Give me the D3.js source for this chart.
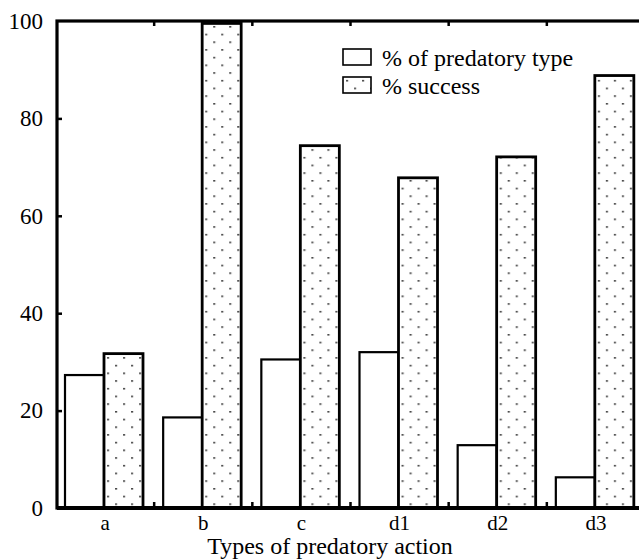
<!DOCTYPE html>
<html>
<head>
<meta charset="utf-8">
<script src="https://cdn.jsdelivr.net/npm/d3@7"></script>
<style>
  html, body { margin: 0; padding: 0; background: #fff; }
  svg { display: block; }
  text { font-family: "Liberation Serif", "DejaVu Serif", "Times New Roman", serif; fill: #000; }
</style>
</head>
<body>
<svg id="chart" width="639" height="560"></svg>
<script>
const categories = ["a", "b", "c", "d1", "d2", "d3"];
const seriesNames = ["% of predatory type", "% success"];
const predatoryType = [27.3, 18.6, 30.5, 32.0, 12.9, 6.3];
const success = [31.7, 99.5, 74.4, 67.8, 72.1, 88.8];
const yTicks = [0, 20, 40, 60, 80, 100];
const xTitle = "Types of predatory action";

const FONT = '"Liberation Serif", "DejaVu Serif", "Times New Roman", serif';
const svg = d3.select("#chart");
const mLeft = 57, mRight = 645, mTop = 21, mBottom = 508;

const x = d3.scaleBand().domain(categories).range([mLeft - 1, mRight]).padding(0);
const x1 = d3.scaleBand().domain(seriesNames).range([9, 87]).padding(0);
const y = d3.scaleLinear().domain([0, 100]).range([mBottom, mTop]);

// pattern
const defs = svg.append("defs");
const pat = defs.append("pattern")
  .attr("id", "dots").attr("patternUnits", "userSpaceOnUse")
  .attr("width", 16).attr("height", 15.4);
pat.append("rect").attr("width", 16).attr("height", 15.4).attr("fill", "#fff");
pat.append("rect").attr("x", 3).attr("y", 3).attr("width", 2.2).attr("height", 1.4).attr("fill", "#333");
pat.append("rect").attr("x", 11).attr("y", 10.7).attr("width", 2.2).attr("height", 1.4).attr("fill", "#333");

const rows = categories.map((c, i) => ({cat: c, vals: [predatoryType[i], success[i]]}));

const groups = svg.append("g").selectAll("g").data(rows).join("g")
  .attr("transform", d => `translate(${x(d.cat)},0)`);

groups.selectAll("rect").data(d => d.vals.map((v, j) => ({s: seriesNames[j], v}))).join("rect")
  .attr("x", d => x1(d.s))
  .attr("width", x1.bandwidth())
  .attr("y", d => y(d.v))
  .attr("height", d => y(0) - y(d.v))
  .attr("fill", d => d.s === seriesNames[0] ? "#fff" : "url(#dots)")
  .attr("stroke", "#000")
  .attr("stroke-width", d => d.s === seriesNames[0] ? 2.2 : 2.8);

// frame
svg.append("rect")
  .attr("x", mLeft).attr("y", mTop)
  .attr("width", mRight - mLeft).attr("height", mBottom - mTop)
  .attr("fill", "none").attr("stroke", "#000").attr("stroke-width", 3.2);
svg.append("line").attr("x1", mLeft).attr("x2", mRight).attr("y1", mBottom).attr("y2", mBottom)
  .attr("stroke", "#000").attr("stroke-width", 4);

// y axis
const yAxis = svg.append("g").attr("transform", `translate(${mLeft},0)`)
  .call(d3.axisLeft(y).tickValues(yTicks).tickSize(-5).tickPadding(14));
yAxis.attr("font-family", null);
yAxis.select(".domain").remove();
yAxis.selectAll(".tick line").attr("stroke", "#000").attr("stroke-width", 2.5)
  .attr("display", d => (d === 0 || d === 100) ? "none" : null);
yAxis.selectAll(".tick text").style("font-size", "23px")
  .style("font-family", FONT).attr("fill", "#000");

// x axis labels
const xAxis = svg.append("g").attr("transform", `translate(0,${mBottom})`)
  .call(d3.axisBottom(x).tickSize(0).tickPadding(7));
xAxis.attr("font-family", null);
xAxis.select(".domain").remove();
xAxis.selectAll(".tick text").style("font-size", "21px")
  .style("font-family", FONT).attr("fill", "#000");

// boundary ticks (bottom up, top down)
const bounds = categories.slice(1).map(c => x(c));
svg.append("g").selectAll("line").data(bounds).join("line")
  .attr("x1", d => d).attr("x2", d => d).attr("y1", mBottom).attr("y2", mBottom - 6)
  .attr("stroke", "#000").attr("stroke-width", 2.5);
svg.append("g").selectAll("line").data(bounds).join("line")
  .attr("x1", d => d).attr("x2", d => d).attr("y1", mTop).attr("y2", mTop + 5)
  .attr("stroke", "#000").attr("stroke-width", 2.5);

// x title
svg.append("text").attr("x", 330).attr("y", 554).attr("text-anchor", "middle")
  .style("font-size", "24px").style("font-family", FONT).text(xTitle);

// legend
const legend = svg.append("g").selectAll("g").data(seriesNames).join("g")
  .attr("transform", (d, i) => `translate(343,${49 + i * 28})`);
legend.append("rect").attr("width", 28).attr("height", 16)
  .attr("fill", (d, i) => i === 0 ? "#fff" : "url(#dots)")
  .attr("stroke", "#000").attr("stroke-width", 1.6);
legend.append("text").attr("x", 39).attr("y", 16.5)
  .style("font-size", "24px").style("font-family", FONT).text(d => d);
</script>
</body>
</html>
